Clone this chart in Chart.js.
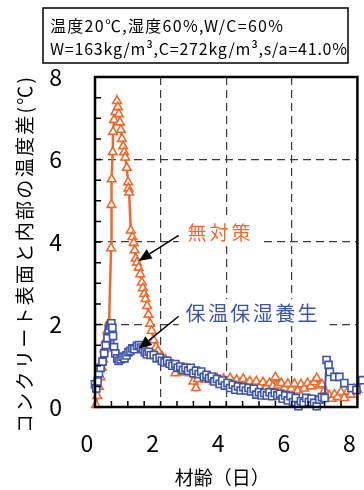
<!DOCTYPE html>
<html>
<head>
<meta charset="utf-8">
<script src="https://cdn.jsdelivr.net/npm/chart.js@4.4.1/dist/chart.umd.min.js"></script>
<style>
  html, body { margin: 0; padding: 0; background: #fff; }
  canvas { display: block; }
</style>
</head>
<body>
<canvas id="chart" width="364" height="490"></canvas>
<script>
// Age (days) and surface–core temperature difference (°C), no curing measure
const ageUntreated = [
  0.03, 0.07, 0.12, 0.17, 0.21, 0.25, 0.29, 0.33, 0.38, 0.43,
  0.49, 0.50, 0.51, 0.54, 0.55, 0.58, 0.62, 0.67, 0.70, 0.73,
  0.76, 0.79, 0.82, 0.86, 0.89, 0.92, 0.97, 1.01, 1.02, 1.04,
  1.09, 1.14, 1.18, 1.21, 1.24, 1.28, 1.33, 1.38, 1.43, 1.46,
  1.50, 1.54, 1.59, 1.63, 1.68, 1.73, 1.79, 1.86, 1.92, 2.05,
  2.15, 2.24, 2.34, 2.45, 2.55, 2.65, 2.78, 2.90, 3.00, 3.08,
  3.14, 3.26, 3.38, 3.50, 3.62, 3.72, 3.82, 3.92, 4.02, 4.12,
  4.22, 4.32, 4.42, 4.52, 4.62, 4.72, 4.82, 4.92, 5.02, 5.12,
  5.22, 5.32, 5.42, 5.50, 5.58, 5.68, 5.78, 5.88, 5.98, 6.08,
  6.18, 6.28, 6.38, 6.48, 6.58, 6.68, 6.76, 6.84, 6.92, 7.00,
  7.06, 7.14, 7.22, 7.30, 7.40, 7.50, 7.60, 7.70, 7.80, 7.90,
  8.00, 8.10
];
const diffUntreated = [
  0.05, 0.27, 0.49, 0.72, 0.95, 1.15, 1.40, 1.62, 1.85, 2.05,
  3.85, 4.90, 5.52, 6.18, 6.67, 6.96, 7.15, 7.42, 7.27, 7.10,
  6.90, 6.72, 6.50, 6.32, 6.18, 6.05, 5.80, 5.45, 5.30, 5.20,
  4.28, 4.12, 3.98, 3.80, 3.60, 3.50, 3.38, 3.22, 3.02, 2.88,
  2.74, 2.62, 2.45, 2.24, 2.02, 1.85, 1.62, 1.45, 1.36, 1.22,
  1.15, 1.08, 1.02, 0.82, 0.98, 0.84, 0.93, 0.82, 0.62, 0.46,
  0.68, 0.78, 0.66, 0.72, 0.62, 0.70, 0.58, 0.68, 0.60, 0.70,
  0.56, 0.66, 0.58, 0.68, 0.56, 0.62, 0.52, 0.62, 0.50, 0.60,
  0.48, 0.58, 0.50, 0.72, 0.52, 0.58, 0.46, 0.56, 0.44, 0.56,
  0.40, 0.55, 0.45, 0.58, 0.50, 0.60, 0.70, 0.52, 0.55, 0.40,
  0.22, 0.28, 0.20, 0.30, 0.24, 0.36, 0.22, 0.38, 0.30, 0.44,
  0.42, 0.50
];

// Same measurement with insulated, moisture-retaining curing
const ageCured = [
  0.00, 0.04, 0.08, 0.12, 0.17, 0.23, 0.28, 0.33, 0.38, 0.42,
  0.46, 0.50, 0.53, 0.55, 0.58, 0.62, 0.68, 0.72, 0.78, 0.84,
  0.90, 0.96, 1.02, 1.08, 1.14, 1.20, 1.28, 1.34, 1.40, 1.46,
  1.52, 1.58, 1.64, 1.70, 1.79, 1.88, 1.97, 2.04, 2.12, 2.20,
  2.28, 2.36, 2.45, 2.52, 2.60, 2.68, 2.76, 2.84, 2.92, 3.00,
  3.08, 3.16, 3.24, 3.32, 3.40, 3.48, 3.56, 3.64, 3.72, 3.80,
  3.88, 3.96, 4.04, 4.12, 4.20, 4.28, 4.36, 4.44, 4.52, 4.60,
  4.68, 4.76, 4.84, 4.92, 5.00, 5.08, 5.16, 5.24, 5.32, 5.40,
  5.48, 5.56, 5.64, 5.72, 5.80, 5.88, 5.96, 6.04, 6.12, 6.20,
  6.28, 6.36, 6.44, 6.52, 6.60, 6.68, 6.76, 6.84, 6.92, 7.00,
  7.06, 7.12, 7.16, 7.30, 7.45, 7.60, 7.82, 7.97, 8.15
];
const diffCured = [
  0.55, 0.45, 0.62, 0.82, 0.95, 1.10, 1.30, 1.50, 1.67, 1.87,
  1.97, 2.03, 1.92, 1.72, 1.45, 1.30, 1.18, 1.12, 1.16, 1.22,
  1.18, 1.25, 1.33, 1.36, 1.42, 1.40, 1.48, 1.50, 1.44, 1.40,
  1.33, 1.28, 1.34, 1.26, 1.26, 1.18, 1.20, 1.12, 1.08, 1.12,
  1.05, 1.00, 1.04, 0.95, 0.98, 0.90, 0.95, 0.88, 0.95, 0.82,
  0.88, 0.80, 0.86, 0.73, 0.78, 0.70, 0.74, 0.62, 0.68, 0.56,
  0.64, 0.52, 0.58, 0.46, 0.54, 0.42, 0.50, 0.40, 0.48, 0.40,
  0.46, 0.38, 0.44, 0.30, 0.36, 0.28, 0.34, 0.28, 0.36, 0.26,
  0.34, 0.28, 0.32, 0.20, 0.28, 0.16, 0.26, 0.12, 0.22, 0.02,
  0.14, 0.10, 0.22, 0.12, 0.20, 0.10, 0.02, 0.18, 0.24, 0.22,
  1.14, 1.02, 0.85, 0.73, 0.73, 0.58, 0.46, 0.41, 0.65
];

const xTickValues = [0, 2, 4, 6, 8];
const yTickValues = [0, 2, 4, 6, 8];
const minorStep = 0.5;

const seriesNames = ['無対策', '保温保湿養生'];
const xTitle = '材齢（日）';
const yTitle = 'コンクリート表面と内部の温度差(℃)';
const headerLines = ['温度20℃,湿度60%,W/C=60%', 'W=163kg/m³,C=272kg/m³,s/a=41.0%'];

const ORANGE = '#EF6A2E';
const BLUE = '#3D55A7';
const FONT = "'Noto Sans CJK JP', 'Noto Sans', sans-serif";

const toPoints = (xs, ys) => xs.map((v, i) => ({ x: v, y: ys[i] }));

// Callouts: label anchor and arrow, in data units
const callouts = [
  { text: seriesNames[0], color: ORANGE, at: [2.82, 4.24], from: [2.55, 4.16], to: [1.33, 3.54], box: 2.55 },
  { text: seriesNames[1], color: BLUE,   at: [2.76, 2.30], from: [2.55, 2.20], to: [1.33, 1.41], box: 2.55 }
];

// draws text left-aligned, spreading glyphs to fill a given width
function spreadText(ctx, text, x, y, width) {
  ctx.letterSpacing = '0px';
  const n = [...text].length;
  const w = ctx.measureText(text).width;
  const s = n > 1 ? (width - w) / (n - 1) : 0;
  ctx.letterSpacing = s + 'px';
  ctx.fillText(text, x, y);
  ctx.letterSpacing = '0px';
}

const decorations = {
  id: 'decorations',
  beforeDraw(chart) {
    const { ctx } = chart;
    ctx.save();
    ctx.fillStyle = '#fff';
    ctx.fillRect(0, 0, chart.width, chart.height);
    ctx.restore();
  },
  afterDatasetsDraw(chart) {
    const { ctx, chartArea: a, scales: { x, y } } = chart;
    ctx.save();

    // plot frame
    ctx.strokeStyle = '#000';
    ctx.lineWidth = 2.5;
    ctx.strokeRect(a.left, a.top, a.right - a.left, a.bottom - a.top);

    // inward minor tick marks on the bottom and left axes
    ctx.lineWidth = 1.5;
    ctx.beginPath();
    for (let v = minorStep; v < x.max; v += minorStep) {
      const px = x.getPixelForValue(v);
      ctx.moveTo(px, a.bottom);
      ctx.lineTo(px, a.bottom - 6);
    }
    for (let v = minorStep; v < y.max; v += minorStep) {
      const py = y.getPixelForValue(v);
      ctx.moveTo(a.left, py);
      ctx.lineTo(a.left + 6, py);
    }
    ctx.stroke();

    // callout labels with arrows
    callouts.forEach((c, i) => {
      ctx.font = (i === 0 ? '19px ' : '20px ') + FONT;
      ctx.textBaseline = 'middle';
      ctx.textAlign = 'left';
      const tx = x.getPixelForValue(c.at[0]);
      const ty = y.getPixelForValue(c.at[1]);
      const width = i === 0 ? 63 : 132;
      const bx = x.getPixelForValue(c.box);
      ctx.fillStyle = '#fff';
      ctx.fillRect(bx, ty - 13, tx + width + 12 - bx, 27);
      ctx.fillStyle = c.color;
      spreadText(ctx, c.text, tx, ty + 1, width);

      const x0 = x.getPixelForValue(c.from[0]), y0 = y.getPixelForValue(c.from[1]);
      const x1 = x.getPixelForValue(c.to[0]), y1 = y.getPixelForValue(c.to[1]);
      const ang = Math.atan2(y1 - y0, x1 - x0);
      const head = 13, half = 5.5;
      const hx = x1 - head * Math.cos(ang), hy = y1 - head * Math.sin(ang);
      ctx.strokeStyle = '#000';
      ctx.lineWidth = 1.5;
      ctx.beginPath();
      ctx.moveTo(x0, y0);
      ctx.lineTo(hx, hy);
      ctx.stroke();
      ctx.fillStyle = '#000';
      ctx.beginPath();
      ctx.moveTo(x1, y1);
      ctx.lineTo(hx + half * Math.sin(ang), hy - half * Math.cos(ang));
      ctx.lineTo(hx - half * Math.sin(ang), hy + half * Math.cos(ang));
      ctx.closePath();
      ctx.fill();
    });

    // condition box above the plot
    ctx.fillStyle = '#fff';
    ctx.fillRect(43, 8, 305, 55);
    ctx.strokeStyle = '#000';
    ctx.lineWidth = 1.5;
    ctx.strokeRect(43, 8, 305, 55);
    ctx.fillStyle = '#000';
    ctx.font = '16px ' + FONT;
    ctx.textAlign = 'left';
    ctx.textBaseline = 'middle';
    spreadText(ctx, headerLines[0], 50, 26, 233);
    spreadText(ctx, headerLines[1], 50, 49, 297);

    // axis titles
    ctx.font = '19px ' + FONT;
    ctx.textBaseline = 'middle';
    ctx.textAlign = 'center';
    ctx.fillText(xTitle, (a.left + a.right) / 2 - 4, 478);

    ctx.translate(25, 433);
    ctx.rotate(-Math.PI / 2);
    ctx.textAlign = 'left';
    spreadText(ctx, yTitle, 0, 0, 356);
    ctx.restore();
  }
};

const gridColor = c => (c.tick && (c.tick.value === 0 || c.tick.value === 8)) ? 'rgba(0,0,0,0)' : '#3a3a3a';

new Chart(document.getElementById('chart'), {
  type: 'scatter',
  data: {
    datasets: [
      {
        label: seriesNames[0],
        data: toPoints(ageUntreated, diffUntreated),
        showLine: true,
        borderColor: ORANGE,
        borderWidth: 2.5,
        pointStyle: 'triangle',
        pointRadius: 5,
        pointBorderWidth: 1.6,
        pointBorderColor: ORANGE,
        pointBackgroundColor: '#fff',
        tension: 0,
        clip: 7,
        order: 1
      },
      {
        label: seriesNames[1],
        data: toPoints(ageCured, diffCured),
        showLine: true,
        borderColor: BLUE,
        borderWidth: 2,
        pointStyle: 'rect',
        pointRadius: 5,
        pointBorderWidth: 1.6,
        pointBorderColor: BLUE,
        pointBackgroundColor: '#fff',
        tension: 0,
        clip: 7,
        order: 0
      }
    ]
  },
  options: {
    responsive: false,
    animation: false,
    layout: { padding: { top: 77, right: 6, left: 0, bottom: 0 } },
    plugins: { legend: { display: false }, tooltip: { enabled: false } },
    scales: {
      x: {
        type: 'linear',
        min: 0,
        max: 8,
        afterFit: s => { s.height = 83; s.paddingLeft = 0; s.paddingRight = 0; },
        afterBuildTicks: s => { s.ticks = xTickValues.map(v => ({ value: v })); },
        ticks: { font: { family: FONT, size: 23 }, color: '#000', padding: 22, labelOffset: -8, maxRotation: 0, autoSkip: false },
        grid: { drawTicks: false, lineWidth: 1.2, color: gridColor },
        border: { display: false, dash: [8, 5] }
      },
      y: {
        min: 0,
        max: 8,
        afterFit: s => { s.width = 95; s.paddingTop = 0; s.paddingBottom = 0; },
        afterBuildTicks: s => { s.ticks = yTickValues.map(v => ({ value: v })); },
        ticks: { font: { family: FONT, size: 23 }, color: '#000', padding: 33 },
        grid: { drawTicks: false, lineWidth: 1.2, color: gridColor },
        border: { display: false, dash: [8, 5] }
      }
    }
  },
  plugins: [decorations]
});
</script>
</body>
</html>
